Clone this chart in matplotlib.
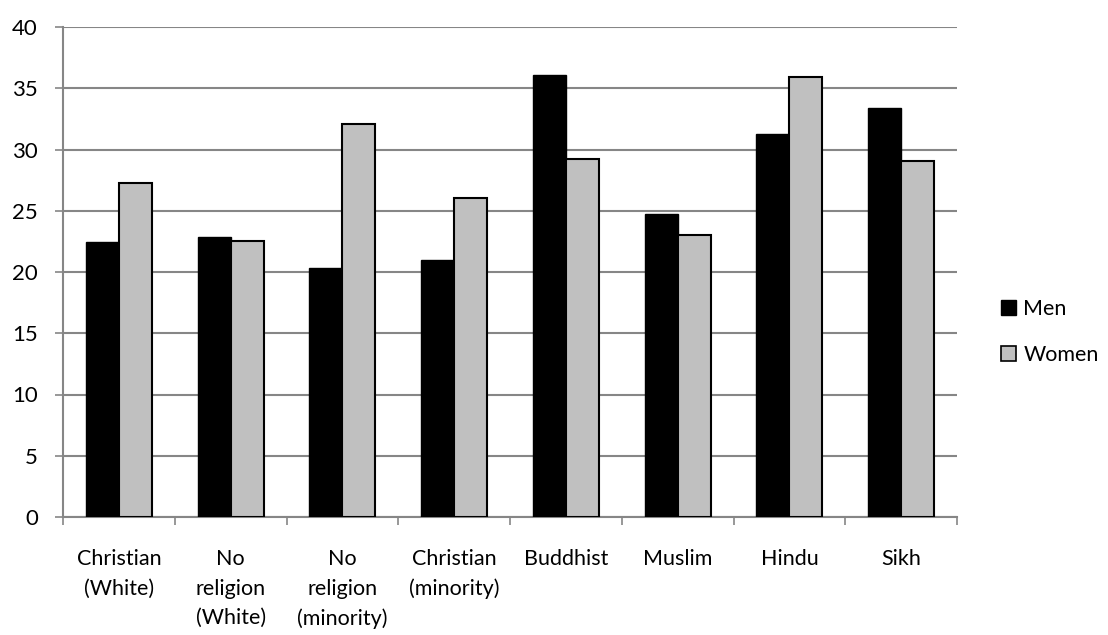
import numpy as np
import matplotlib
matplotlib.use('Agg')
import matplotlib.pyplot as plt
from matplotlib.patches import Patch

plt.rcParams['font.family'] = ['Lato', 'DejaVu Sans']

categories = ['Christian\n(White)', 'No\nreligion\n(White)', 'No\nreligion\n(minority)',
              'Christian\n(minority)', 'Buddhist', 'Muslim', 'Hindu', 'Sikh']
men = [22.45, 22.85, 20.35, 21.0, 36.1, 24.7, 31.25, 33.4]
women = [27.3, 22.55, 32.05, 26.05, 29.2, 23.0, 35.9, 29.1]
yticks = [0, 5, 10, 15, 20, 25, 30, 35, 40]

grid_c = '#868686'

fig = plt.figure(figsize=(11.08, 6.35), dpi=100)
ax = fig.add_axes([63/1108, 118/635, (957-63)/1108, (517-27)/635])

x = np.arange(len(categories))
w = 0.295
ax.bar(x - w/2, men, width=w, color='black', edgecolor='black', linewidth=1.0, zorder=3)
ax.bar(x + w/2, women, width=w, color='#C0C0C0', edgecolor='black', linewidth=1.5, zorder=3)

ax.set_xlim(-0.5, len(categories) - 0.5)
ax.set_ylim(0, 40)
ax.set_yticks(yticks)
ax.yaxis.grid(True, color=grid_c, linewidth=1.5, zorder=0)
ax.set_axisbelow(True)

ax.set_xticks(x)
ax.set_xticklabels(categories, fontsize=15.5, linespacing=1.6, va='top')
ax.set_xticks(np.arange(-0.5, len(categories), 1), minor=True)
ax.tick_params(axis='x', which='major', length=0, pad=23)
ax.tick_params(axis='x', which='minor', length=6, width=1.2, color=grid_c, direction='out')
ax.tick_params(axis='y', length=6, width=1.2, color=grid_c, labelsize=16, pad=12)

for side in ['top', 'right']:
    ax.spines[side].set_visible(False)
for side in ['left', 'bottom']:
    ax.spines[side].set_color(grid_c)
    ax.spines[side].set_linewidth(1.5)

handles = [Patch(facecolor='black', edgecolor='black', label='Men'),
           Patch(facecolor='#C0C0C0', edgecolor='black', linewidth=1.2, label='Women')]
fig.legend(handles=handles, loc='center left', bbox_to_anchor=(992/1108, 1 - 332/635),
           frameon=False, fontsize=15.5, handlelength=0.7, handleheight=0.7,
           handletextpad=0.35, labelspacing=1.2, borderaxespad=0)

fig.savefig('out.png', dpi=100)
